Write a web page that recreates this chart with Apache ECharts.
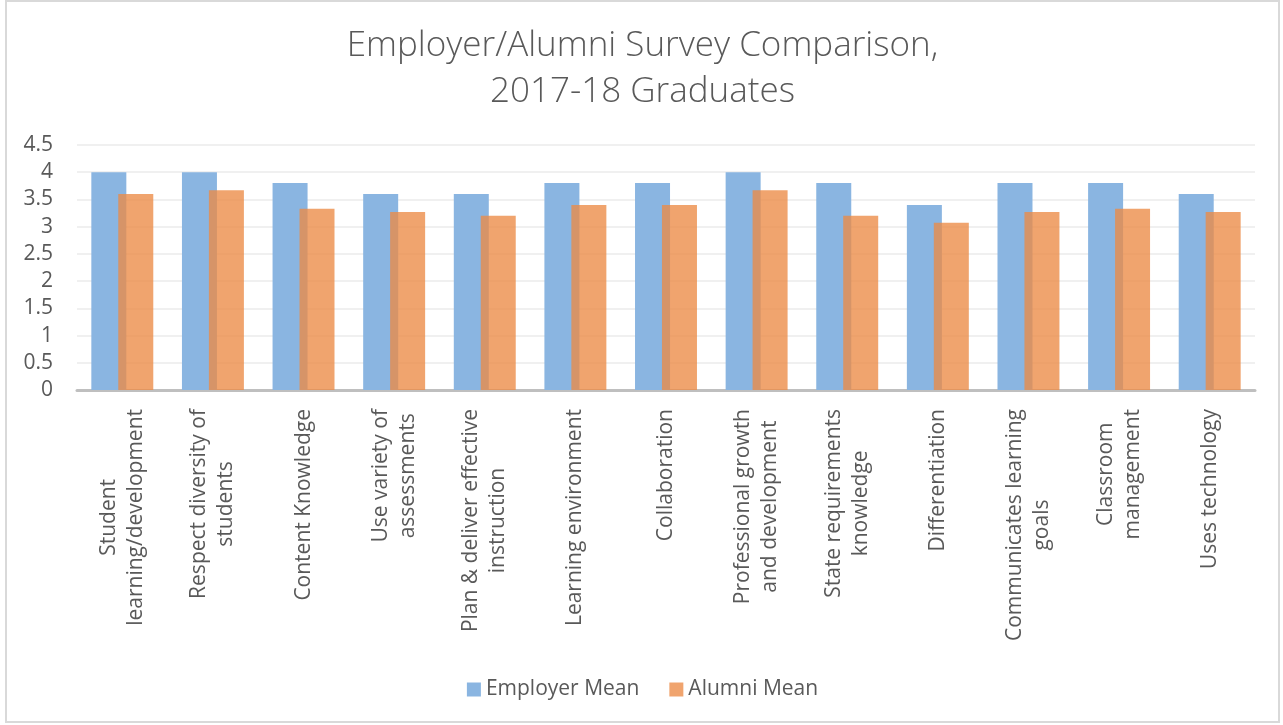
<!DOCTYPE html>
<html>
<head>
<meta charset="utf-8">
<script src="https://cdn.jsdelivr.net/npm/echarts@6/dist/echarts.min.js"></script>
<style>
html,body{margin:0;padding:0;background:#fff;}
#chart{position:absolute;left:5px;top:0px;width:1275px;height:723px;box-sizing:border-box;border:2px solid #D9D9D9;}
</style>
</head>
<body>
<div id="chart"></div>
<script>
const titleLines = ['Employer/Alumni Survey Comparison,', '2017-18 Graduates'];
const categories = [
  'Student\nlearning/development',
  'Respect diversity of\nstudents',
  'Content Knowledge',
  'Use variety of\nassessments',
  'Plan & deliver effective\ninstruction',
  'Learning environment',
  'Collaboration',
  'Professional growth\nand development',
  'State requirements\nknowledge',
  'Differentiation',
  'Communicates learning\ngoals',
  'Classroom\nmanagement',
  'Uses technology'
];
const employerMean = [4.0, 4.0, 3.8, 3.6, 3.6, 3.8, 3.8, 4.0, 3.8, 3.4, 3.8, 3.8, 3.6];
const alumniMean   = [3.6, 3.67, 3.33, 3.27, 3.2, 3.4, 3.4, 3.67, 3.2, 3.07, 3.27, 3.33, 3.27];
const seriesNames = ['Employer Mean', 'Alumni Mean'];

const FONT = '"Open Sans", "Liberation Sans", sans-serif';
const TXT = '#595959';

const chart = echarts.init(document.getElementById('chart'));
chart.setOption({
  animation: false,
  textStyle: { fontFamily: FONT },
  title: {
    text: titleLines.join('\n'),
    left: 'center',
    top: 16,
    textStyle: { fontFamily: FONT, fontSize: 35, fontWeight: 300, color: TXT, lineHeight: 46 }
  },
  legend: {
    data: seriesNames,
    top: 672,
    left: 'center',
    icon: 'rect',
    itemWidth: 14,
    itemHeight: 14,
    itemGap: 30,
    textStyle: { fontFamily: FONT, fontSize: 21, color: TXT }
  },
  grid: { left: 70, right: 23, top: 143, bottom: 331, containLabel: false },
  xAxis: {
    type: 'category',
    data: categories,
    axisTick: { show: false },
    axisLine: { lineStyle: { color: '#BFBFBF', width: 3 } },
    axisLabel: {
      interval: 0,
      rotate: 90,
      margin: 19,
      fontSize: 21,
      color: TXT,
      lineHeight: 27,
      formatter: function (v) {
        return v.split('\n').map(function (l) { return '{c|' + l + '}'; }).join('\n');
      },
      rich: { c: { align: 'center', fontSize: 21, color: TXT, fontFamily: FONT, lineHeight: 27 } }
    }
  },
  yAxis: {
    type: 'value',
    min: 0,
    max: 4.5,
    interval: 0.5,
    axisLine: { show: false },
    axisTick: { show: false },
    axisLabel: { fontSize: 21, color: TXT, margin: 24 },
    splitLine: { lineStyle: { color: '#EBEBEB', width: 1.5 } }
  },
  series: [
    {
      name: seriesNames[0],
      type: 'bar',
      data: employerMean,
      barWidth: 35,
      barGap: '-23%',
      itemStyle: { color: '#8AB5E1' }
    },
    {
      name: seriesNames[1],
      type: 'bar',
      data: alumniMean,
      barWidth: 35,
      barGap: '-23%',
      itemStyle: { color: '#EC8A45', opacity: 0.78 }
    }
  ]
});
</script>
</body>
</html>
